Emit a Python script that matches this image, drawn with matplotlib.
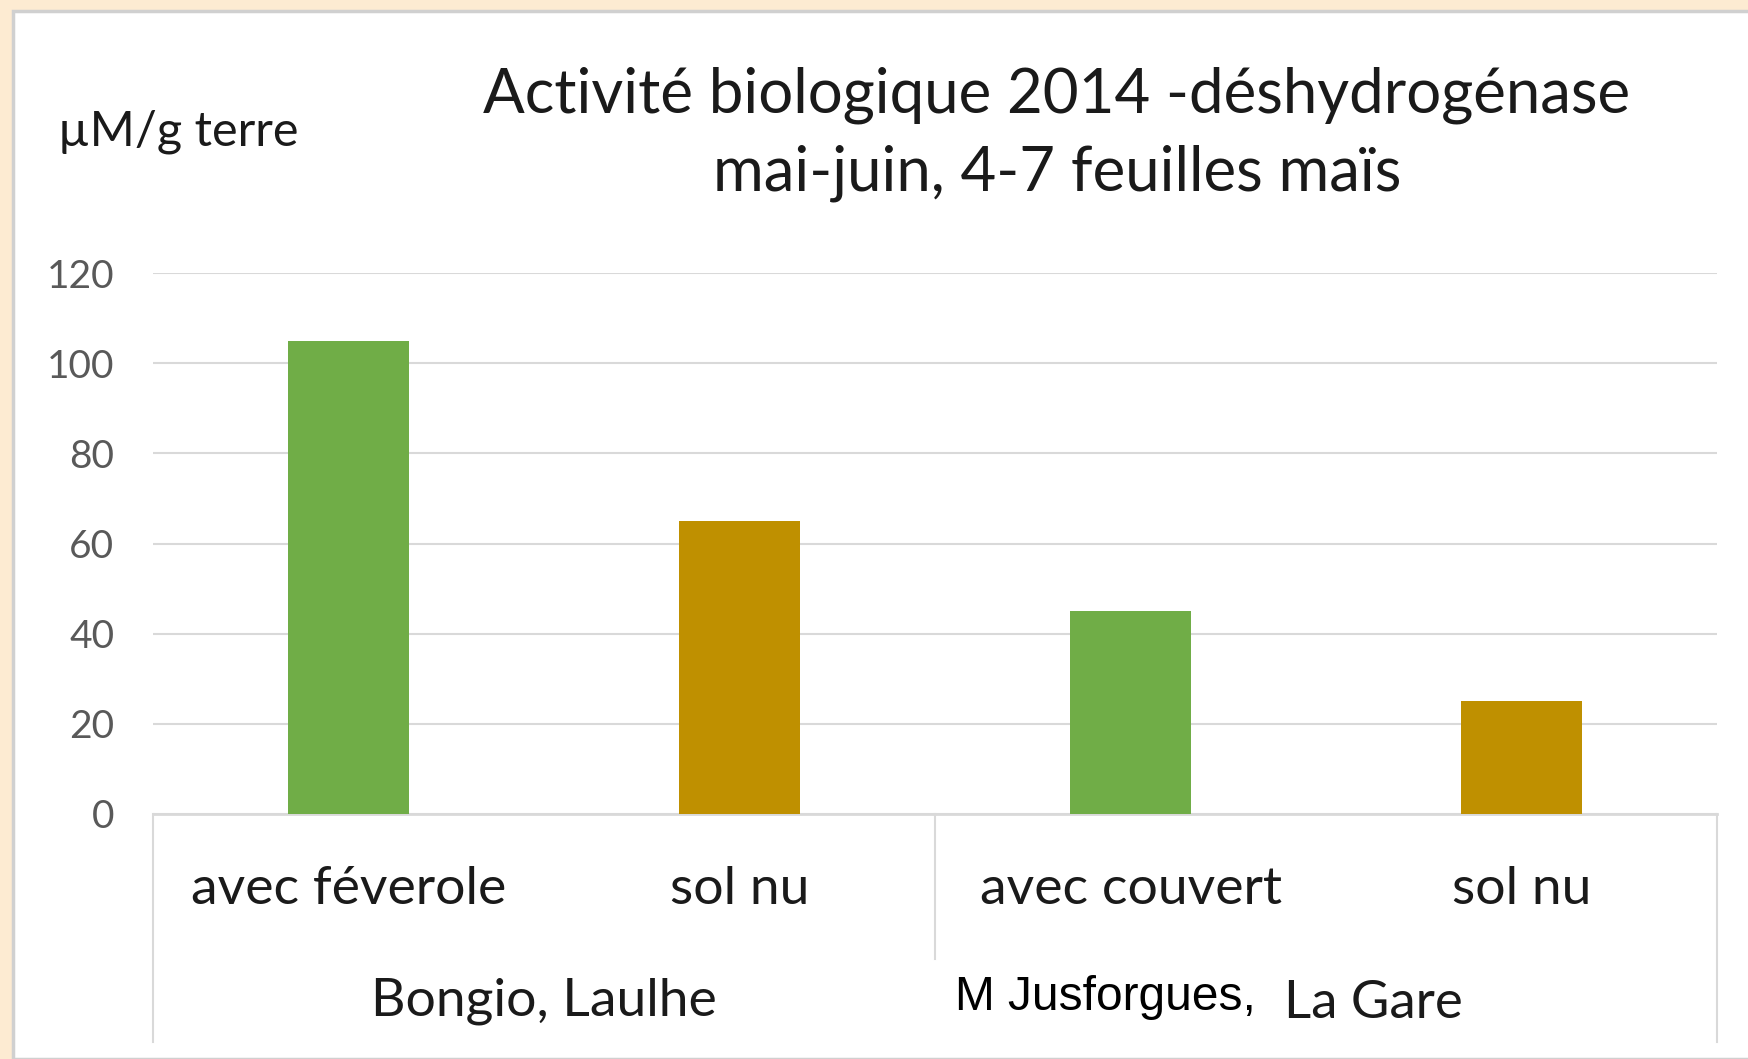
import matplotlib
matplotlib.use('Agg')
import matplotlib.pyplot as plt
from matplotlib.patches import Rectangle

# data
categories = ['avec féverole', 'sol nu', 'avec couvert', 'sol nu']
values = [105, 65, 45, 25]
bar_colors = ['#70AD47', '#BF9000', '#70AD47', '#BF9000']
yticks = [0, 20, 40, 60, 80, 100, 120]
title_lines = ['Activité biologique 2014 -déshydrogénase', 'mai-juin, 4-7 feuilles maïs']
ylabel = 'µM/g terre'

W, H = 1748, 1059
FONT = 'Lato'

fig = plt.figure(figsize=(W / 100, H / 100), dpi=100)
fig.patch.set_facecolor('#FDEBD2')

# white chart panel with grey edge
fig.patches.append(Rectangle((13 / W, 0), 1.0, (H - 11) / H, transform=fig.transFigure,
                             facecolor='white', edgecolor='#D0D0D0', lw=2.5, zorder=0))

ax_left, ax_right = 153, 1717
ax_top, ax_bot = 273, 814
ax = fig.add_axes([ax_left / W, (H - ax_bot) / H, (ax_right - ax_left) / W, (ax_bot - ax_top) / H])
ax.set_facecolor('none')
ax.set_zorder(2)

x = list(range(len(values)))
ax.bar(x, values, width=0.31, color=bar_colors, zorder=3)
ax.set_xlim(-0.5, len(values) - 0.5)
ax.set_ylim(0, 120)
ax.set_yticks(yticks)
ax.set_yticklabels([str(t) for t in yticks], fontsize=28, color='#595959', family=FONT)
ax.tick_params(axis='y', length=0, pad=28)
ax.set_xticks([])
ax.grid(axis='y', color='#D9D9D9', lw=1.5, zorder=0)
for s in ['top', 'right', 'left']:
    ax.spines[s].set_visible(False)
ax.spines['bottom'].set_color('#D9D9D9')
ax.spines['bottom'].set_linewidth(2)

# category axis: separators and labels
px = 1.0 / (ax_bot - ax_top)
for xs, depth in [(-0.5, 228), (1.5, 145), (3.5, 228)]:
    ax.plot([xs, xs], [0, -depth * px], transform=ax.get_xaxis_transform(),
            color='#D9D9D9', lw=1.5, clip_on=False)
for xi, lab in zip(x, categories):
    ax.text(xi, -75 * px, lab, transform=ax.get_xaxis_transform(), ha='center', va='center',
            fontsize=38.5, color='#1A1A1A', family=FONT)
ax.text(0.5, -187 * px, 'Bongio, Laulhe', transform=ax.get_xaxis_transform(), ha='center',
        va='center', fontsize=38.5, color='#1A1A1A', family=FONT)
fig.text(955 / W, 1 - 998 / H, 'M Jusforgues,', ha='left', va='center', fontsize=34.5,
         color='black', family='Liberation Sans')
fig.text(1284 / W, 1 - 1003 / H, 'La Gare', ha='left', va='center', fontsize=38,
         color='#1A1A1A', family=FONT)

# title and unit label
fig.text(1057 / W, 1 - 95 / H, title_lines[0], ha='center', va='center', fontsize=44.5,
         color='#1A1A1A', family=FONT)
fig.text(1057 / W, 1 - 173 / H, title_lines[1], ha='center', va='center', fontsize=44.5,
         color='#1A1A1A', family=FONT)
fig.text(58 / W, 1 - 132 / H, ylabel, ha='left', va='center', fontsize=35,
         color='#1A1A1A', family=FONT)

fig.savefig('out.png', dpi=100, facecolor=fig.get_facecolor())
